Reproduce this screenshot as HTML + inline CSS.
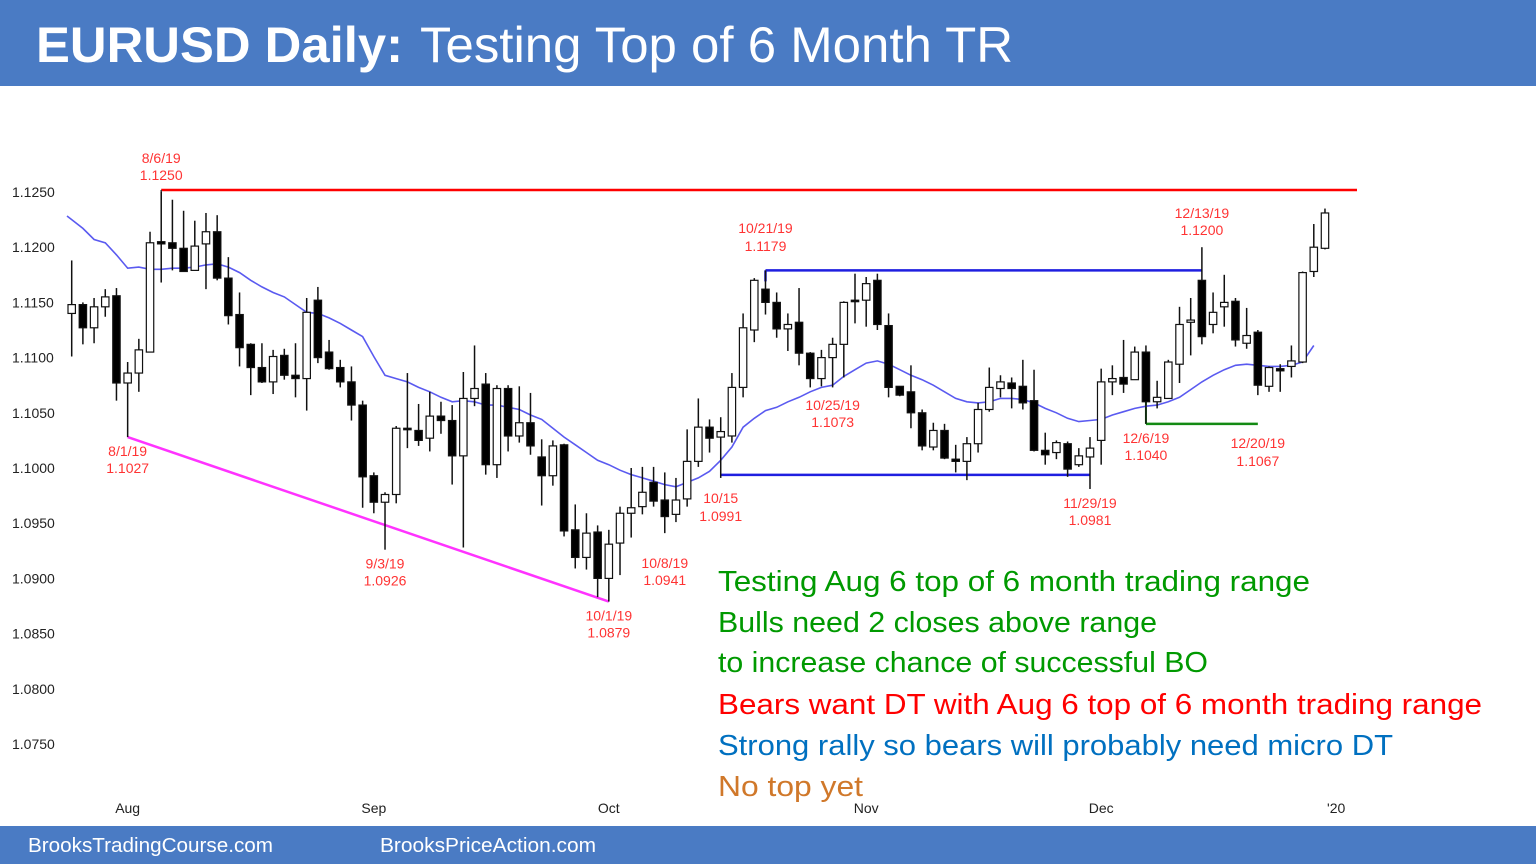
<!DOCTYPE html>
<html><head><meta charset="utf-8"><style>
html,body{margin:0;padding:0;background:#fff;}
svg{display:block;font-family:"Liberation Sans",Arial,sans-serif;}
</style></head><body>
<svg id="chart" width="1536" height="864" viewBox="0 0 1536 864" xmlns="http://www.w3.org/2000/svg">
<rect x="0" y="0" width="1536" height="86" fill="#4a7bc4"/>
<text x="36" y="62" fill="#fff" font-size="50" font-weight="bold" textLength="367" lengthAdjust="spacingAndGlyphs">EURUSD Daily:</text>
<text x="420" y="62" fill="#fff" font-size="50" textLength="593" lengthAdjust="spacingAndGlyphs">Testing Top of 6 Month TR</text>
<rect x="0" y="826" width="1536" height="38" fill="#4a7bc4"/>
<text x="28" y="852" fill="#fff" font-size="20" textLength="245" lengthAdjust="spacingAndGlyphs">BrooksTradingCourse.com</text>
<text x="380" y="852" fill="#fff" font-size="20" textLength="216" lengthAdjust="spacingAndGlyphs">BrooksPriceAction.com</text>
<g id="yaxis"></g>
<g id="xaxis"></g>
<g id="annot"></g>
<g id="ma"></g>
<g id="candles"></g>
<g id="labels"></g>
<g font-size="29">
<text x="718" y="591" fill="#009900" textLength="592" lengthAdjust="spacingAndGlyphs">Testing Aug 6 top of 6 month trading range</text>
<text x="718" y="632" fill="#009900" textLength="439" lengthAdjust="spacingAndGlyphs">Bulls need 2 closes above range</text>
<text x="718" y="672" fill="#009900" textLength="490" lengthAdjust="spacingAndGlyphs">to increase chance of successful BO</text>
<text x="718" y="714" fill="#ff0000" textLength="764" lengthAdjust="spacingAndGlyphs">Bears want DT with Aug 6 top of 6 month trading range</text>
<text x="718" y="755" fill="#0070c0" textLength="675" lengthAdjust="spacingAndGlyphs">Strong rally so bears will probably need micro DT</text>
<text x="718" y="796" fill="#d0782a" textLength="145" lengthAdjust="spacingAndGlyphs">No top yet</text>
</g>
</svg>
<script>
const openPips=[11140,11148,11127,11146,11156,11077,11086,11105,11205,11204,11199,11179,11203,11214,11172,11139,11112,11091,11078,11102,11084,11081,11152,11105,11091,11078,11057,10993,10969,10976,11036,11034,11027,11047,11043,11011,11063,11076,11003,11072,11029,11041,11010,10993,11021,10944,10919,10942,10900,10932,10959,10965,10987,10971,10958,10972,11006,11037,11028,11029,11073,11125,11162,11150,11126,11132,11104,11081,11100,11112,11152,11152,11170,11129,11074,11069,11050,11019,11034,11008,11006,11022,11053,11072,11077,11074,11061,11016,11014,11022,11003,11010,11025,11078,11082,11080,11105,11060,11063,11094,11132,11170,11130,11146,11151,11113,11123,11074,11090,11092,11096,11178,11199];
const highPips=[11188,11150,11154,11162,11163,11096,11117,11214,11250,11243,11233,11224,11231,11229,11191,11159,11113,11113,11107,11108,11113,11154,11164,11116,11098,11092,11061,10996,10978,11038,11086,11058,11069,11060,11057,11087,11111,11086,11075,11075,11074,11068,11026,11025,11022,10967,10959,10948,10944,10965,11000,11001,11001,10996,10991,11035,11063,11044,11046,11086,11140,11172,11179,11159,11140,11163,11105,11107,11118,11151,11176,11173,11176,11140,11074,11093,11053,11041,11040,11021,11028,11059,11091,11084,11082,11098,11089,11032,11025,11024,11018,11028,11090,11093,11116,11110,11111,11079,11098,11146,11154,11200,11159,11175,11154,11145,11125,11092,11094,11111,11178,11221,11235];
const lowPips=[11101,11112,11113,11137,11061,11028,11069,11105,11168,11179,11178,11179,11162,11170,11130,11092,11066,11077,11067,11080,11064,11052,11095,11089,11073,11043,10964,10959,10926,10968,11018,11020,11015,11031,10985,10928,11056,10994,10991,11015,11023,11012,10966,10984,10938,10909,10908,10883,10879,10903,10937,10958,10965,10941,10951,10965,11001,11014,10991,11023,11064,11114,11139,11118,11106,11093,11073,11074,11073,11082,11131,11128,11125,11064,11065,11036,11016,11016,11008,10996,10989,11014,11051,11064,11054,11053,11015,11003,11008,10992,11001,10981,11003,11066,11068,11080,11040,11054,11063,11077,11102,11112,11122,11128,11110,11108,11066,11069,11069,11082,11095,11173,11198];
const closePips=[11148,11127,11146,11155,11077,11086,11107,11204,11203,11199,11178,11201,11214,11172,11138,11109,11091,11078,11101,11084,11081,11141,11100,11090,11078,11057,10992,10969,10976,11036,11035,11025,11047,11043,11011,11063,11072,11003,11072,11029,11041,11020,10993,11020,10943,10919,10941,10900,10931,10959,10964,10978,10970,10956,10971,11006,11037,11027,11033,11073,11127,11170,11150,11126,11130,11104,11081,11100,11112,11150,11151,11167,11130,11073,11066,11050,11020,11034,11009,11006,11022,11053,11073,11078,11072,11059,11016,11012,11023,10999,11011,11018,11078,11081,11076,11105,11060,11064,11096,11130,11134,11119,11141,11150,11116,11120,11075,11091,11088,11097,11177,11200,11231];
const maPips=[11225,11217,11207,11204,11193,11181,11182,11180,11180,11181,11181,11182,11184,11185,11182,11177,11170,11164,11159,11155,11148,11141,11140,11136,11131,11125,11119,11101,11084,11081,11078,11073,11069,11064,11060,11061,11060,11057,11057,11055,11053,11048,11044,11036,11028,11021,11014,11007,11003,10998,10994,10991,10988,10985,10983,10987,10991,10997,11007,11019,11037,11045,11052,11055,11060,11064,11069,11073,11075,11083,11089,11095,11097,11094,11089,11084,11080,11075,11069,11063,11060,11059,11060,11063,11063,11062,11059,11054,11050,11045,11042,11043,11044,11048,11051,11054,11056,11057,11060,11064,11071,11078,11084,11089,11093,11094,11093,11092,11092,11093,11096,11111];
const yTicks=[1.1250,1.1200,1.1150,1.1100,1.1050,1.1000,1.0950,1.0900,1.0850,1.0800,1.0750];
const monthLabels=["Aug","Sep","Oct","Nov","Dec","'20"];
const monthIndex=[5,27,48,71,92,113];
// annotation labels: [candle index, date text, price text, price position]
const annDates=["8/6/19","8/1/19","9/3/19","10/1/19","10/8/19","10/15","10/21/19","10/25/19","11/29/19","12/6/19","12/13/19","12/20/19"];
const annPrices=["1.1250","1.1027","1.0926","1.0879","1.0941","1.0991","1.1179","1.1073","1.0981","1.1040","1.1200","1.1067"];
const annIndex=[8,5,28,48,53,58,62,68,91,96,101,106];
const annAbove=[1,0,0,0,0,0,1,0,0,0,1,0];

const NS="http://www.w3.org/2000/svg";
function X(i){return 71.7+11.19*i;}
function Y(p){return 192+(1.125-p)/0.005*55.2;}
function P(v){return v/10000;}
function mk(tag,attrs,parent){const e=document.createElementNS(NS,tag);for(const k in attrs)e.setAttribute(k,attrs[k]);parent.appendChild(e);return e;}

const yax=document.getElementById('yaxis');
yTicks.forEach(t=>{
  const e=mk('text',{x:12,y:Y(t)+5,'font-size':14,fill:'#222'},yax);
  
  
  e.textContent=t.toFixed(4);
});
const xax=document.getElementById('xaxis');
monthLabels.forEach((m,k)=>{
  const e=mk('text',{x:X(monthIndex[k]),y:813,'font-size':14,fill:'#222','text-anchor':'middle'},xax);
  
  
  e.textContent=m;
});

const an=document.getElementById('annot');
function line(x1,y1,x2,y2,c,w,name){const e=mk('line',{x1,y1,x2,y2,stroke:c,'stroke-width':w},an);


return e;}
line(X(8),Y(P(highPips[8]))-2,1357,Y(P(highPips[8]))-2,'#ff0000',2.5,'resistance-line-aug6');
line(X(8),Y(P(highPips[8]))-2,X(8),Y(P(highPips[8]))+8,'#333',1.5,'resistance-tick');
line(X(5),Y(P(lowPips[5])),X(48),Y(P(lowPips[48])),'#ff33ff',2.5,'bear-trend-line');
line(X(62),Y(P(highPips[62])),X(101),Y(P(highPips[62])),'#1f1fe0',2.5,'range-top-line');
line(X(62),Y(P(highPips[62])),X(62),Y(P(highPips[62]))+11,'#1f1fe0',2.5,'range-top-tick');
line(X(58),Y(P(lowPips[58]))-3,X(91),Y(P(lowPips[58]))-3,'#1f1fe0',2.5,'range-bottom-line');
line(X(96),Y(P(lowPips[96])),X(106),Y(P(lowPips[96])),'#138a13',2.5,'support-line-dec6');
line(X(96),Y(P(closePips[96])),X(96),Y(P(lowPips[96])),'#138a13',2,'support-tick');

const ma=document.getElementById('ma');
let d='';
maPips.forEach((v,i)=>{d+=(i?'L':'M')+X(i).toFixed(1)+','+Y(P(v)).toFixed(1);});
const maPath=mk('path',{d:'M67,216 L'+d.slice(1),fill:'none',stroke:'#5a5af0','stroke-width':1.6},ma);



const cg=document.getElementById('candles');
openPips.forEach((o,i)=>{
  const g=mk('g',{},cg);
  
  
  const x=X(i),c=closePips[i];
  mk('line',{x1:x,x2:x,y1:Y(P(highPips[i])),y2:Y(P(lowPips[i])),stroke:'#111','stroke-width':1.5},g);
  const top=Y(P(Math.max(o,c))),bot=Y(P(Math.min(o,c)));
  const bull=c>o;
  mk('rect',{x:x-3.7,y:top,width:7.4,height:Math.max(bot-top,1.5),fill:bull?'#fff':'#000',stroke:'#111','stroke-width':1.2},g);
});

const lg=document.getElementById('labels');
annIndex.forEach((idx,k)=>{
  let y1,y2;
  if(annAbove[k]){const yh=Y(P(highPips[idx]));y1=yh-29;y2=yh-12;}
  else{const yl=Y(P(lowPips[idx]));y1=yl+19;y2=yl+36;}
  if(k===6){y1=233;y2=251;}
  if(k===7){y1=410;y2=427;}
  if(k===4){y1=568;y2=585;}
  if(k===5){y1=503;y2=521;}
  if(k===11){y1=448;y2=466;}
  const t1=mk('text',{x:X(idx),y:y1,'font-size':14,fill:'#ff3333','text-anchor':'middle'},lg);
  
  
  t1.textContent=annDates[k];
  const t2=mk('text',{x:X(idx),y:y2,'font-size':14,fill:'#ff3333','text-anchor':'middle'},lg);
  
  
  t2.textContent=annPrices[k];
});
</script>
</body></html>
